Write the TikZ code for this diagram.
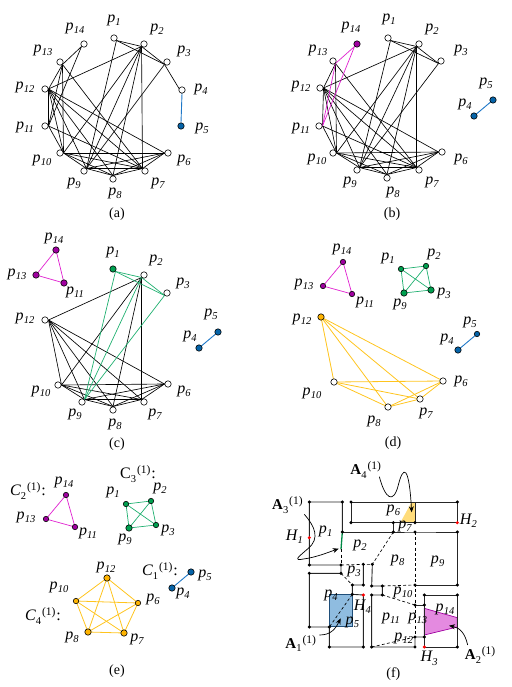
\documentclass[tikz,border=0pt]{standalone}
\usepackage{fontspec}
\setmainfont{Liberation Serif}
\usetikzlibrary{backgrounds,arrows.meta}
\definecolor{nblue}{HTML}{0563A8}
\definecolor{lblue}{HTML}{1F78C8}
\definecolor{nmag}{HTML}{A000A0}
\definecolor{lmag}{HTML}{E020D0}
\definecolor{ngreen}{HTML}{00A050}
\definecolor{lgreen}{HTML}{20B070}
\definecolor{nyel}{HTML}{FFB400}
\definecolor{lyel}{HTML}{FFC41E}
\definecolor{fblue}{HTML}{8FBCE0}
\definecolor{dblue}{HTML}{1F4E79}
\definecolor{fmag}{HTML}{E48AE0}
\definecolor{fyel}{HTML}{FFDC7A}
\newcommand\pl[1]{{\fontsize{16}{16}\selectfont\itshape p\kern.2pt\raisebox{-3.2pt}{\fontsize{10.5}{10}\selectfont #1}}}
\newcommand\hl[1]{{\fontsize{16}{16}\selectfont\itshape H\kern.2pt\raisebox{-3.2pt}{\fontsize{10.5}{10}\selectfont #1}}}
\newcommand\supsub[1]{\raisebox{-3.2pt}{\fontsize{10.5}{10}\selectfont\upshape #1}\kern.8pt\raisebox{5pt}{\fontsize{11.5}{10}\selectfont\upshape (1)}}
\newcommand\clab[1]{{\fontsize{16}{15}\selectfont\itshape C\kern.2pt\supsub{#1}\kern1pt\upshape:}}
\newcommand\clabup[1]{{\fontsize{16}{15}\selectfont C\kern.2pt\supsub{#1}\kern1pt:}}
\newcommand\alab[1]{{\fontsize{15}{15}\selectfont\bfseries A\kern.2pt\mdseries\supsub{#1}}}
\tikzset{
  wn/.style={circle,draw=black,fill=white,line width=.6pt,inner sep=0pt,minimum size=6.4pt},
  bn/.style={wn,fill=nblue},
  mn/.style={wn,fill=nmag},
  gn/.style={wn,fill=ngreen},
  yn/.style={wn,fill=nyel},
  small/.style={minimum size=5.4pt},
  lb/.style={inner sep=0pt},
  capt/.style={inner sep=0pt,font=\fontsize{14}{14}\selectfont},
  ke/.style={draw=black,line width=.65pt},
  be/.style={draw=lblue,line width=.9pt},
  me/.style={draw=lmag,line width=.7pt},
  ge/.style={draw=lgreen,line width=.7pt},
  ye/.style={draw=lyel,line width=.8pt},
  wall/.style={draw=black!85,line width=.9pt},
  dsh/.style={draw=black,line width=.65pt,dash pattern=on 3pt off 2.2pt},
  curv/.style={draw=black,line width=.7pt},
  curva/.style={curv,-{Stealth[length=6pt,width=5pt]}},
  dot/.style={circle,fill=black,inner sep=0pt,minimum size=3.4pt},
  reddot/.style={circle,fill=red,inner sep=0pt,minimum size=3.4pt}
}
\expandafter\def\csname anc1\endcsname{south east}
\expandafter\def\csname anc2\endcsname{south west}
\expandafter\def\csname anc3\endcsname{south west}
\expandafter\def\csname anc4\endcsname{south}
\expandafter\def\csname anc5\endcsname{north}
\expandafter\def\csname anc6\endcsname{west}
\expandafter\def\csname anc7\endcsname{north west}
\expandafter\def\csname anc8\endcsname{north}
\expandafter\def\csname anc9\endcsname{north east}
\expandafter\def\csname anc10\endcsname{east}
\expandafter\def\csname anc11\endcsname{east}
\expandafter\def\csname anc12\endcsname{east}
\expandafter\def\csname anc13\endcsname{south east}
\expandafter\def\csname anc14\endcsname{south west}
\newcommand\nodeset[3]{\foreach \n/\x/\y in {#3}{\node[#2] (#1\n) at (\x,\y) {};}}
\newcommand\labelset[2]{\foreach \n/\x/\y in {#2}{\node[lb] (#1l\n) at (\x,\y) {\pl{\n}};}}
\newcommand\edgeset[3]{\begin{pgfonlayer}{background}\foreach \p/\q in {#3}{\edef\ap{\csname anc\p\endcsname}\edef\aq{\csname anc\q\endcsname}\draw[#2] (#1\p.\ap) -- (#1\q.\aq);}\end{pgfonlayer}}
\newcommand\edgesetc[3]{\begin{pgfonlayer}{background}\foreach \p/\q in {#3}{\draw[#2] (#1\p.center) -- (#1\q.center);}\end{pgfonlayer}}
\begin{document}
\begin{tikzpicture}[x=1pt,y=-1pt]
\useasboundingbox (0,0) rectangle (511,687);
%% (a)
\nodeset{a}{wn}{1/114/38,2/144/44,3/167/62,4/182/90,6/168/153,7/145/171,8/113/179,9/84/171,10/60/153,11/45/126,12/45/89,13/60/62,14/84/44}
\nodeset{a}{bn}{5/181/126}
\labelset{a}{1/114/20,2/157/29,3/184/51,4/201/89,5/202/128,6/184/160,7/158/183,8/115/193,9/74/183,10/42/160,11/25/127,12/25/87,13/43/50,14/75/28}
\edgeset{a}{ke}{1/2,1/3,1/9,2/3,2/9,3/9,3/4,2/12,2/10,2/8,2/7,12/13,12/11,12/10,12/9,12/8,12/7,12/6,13/14,13/11,13/10,13/7,14/11,11/10,11/7,10/9,10/8,10/7,10/6,9/8,9/7,9/6,8/7,8/6,7/6}
\edgeset{a}{be}{4/5}
\node[capt] (capa) at (117,214) {(a)};
%% (b)
\nodeset{b}{wn}{1/388/38,2/419/44,3/441/61,6/442/152,7/419/170,8/387/178,9/357/170,10/333/153,11/319/126,12/320/88,13/333/61}
\nodeset{b}{bn}{4/474/116,5/493/100}
\nodeset{b}{mn}{14/357/44}
\labelset{b}{1/389/19,2/432/29,3/461/50,4/465/104,5/486/83,6/461/159,7/432/182,8/393/192,9/350/182,10/317/159,11/301/128,12/301/86,13/318/50,14/351/27}
\edgeset{b}{ke}{1/2,1/3,1/9,2/3,2/9,3/9,2/12,2/10,2/8,2/7,12/13,12/11,12/10,12/9,12/8,12/7,12/6,13/10,13/7,11/10,11/7,10/9,10/8,10/7,10/6,9/8,9/7,9/6,8/7,8/6,7/6}
\edgeset{b}{me}{13/14,13/11,14/11}
\edgesetc{b}{be}{4/5}
\node[capt] (capb) at (392,214) {(b)};
%% (c)
\nodeset{c}{wn}{2/144/275,3/167/293,6/168/384,7/144/402,8/113/410,9/82/402,10/58/385,12/45/320}
\nodeset{c}{gn}{1/113/269}
\nodeset{c}{bn}{4/199/348,5/218/332}
\nodeset{c}{mn}{11/64/283,13/36/275,14/56/250}
\labelset{c}{1/113/252,2/156/260,3/183/283,4/190/336,5/211/314,6/184/391,7/155/414,8/115/424,9/75/414,10/41/391,11/75/292,12/25/318,13/17/274,14/54/238}
\edgeset{c}{ke}{2/12,2/10,2/8,2/7,12/10,12/9,12/8,12/7,12/6,10/9,10/8,10/7,10/6,9/8,9/7,9/6,8/7,8/6,7/6}
\edgeset{c}{ge}{1/2,1/3,1/9,2/3,2/9,3/9}
\edgesetc{c}{me}{14/13,14/11,13/11}
\edgesetc{c}{be}{4/5}
\node[capt] (capc) at (117,444) {(c)};
%% (d)
\nodeset{d}{wn}{6/443/381,7/420/399,8/388/407,10/334/382}
\nodeset{d}{gn,small}{1/401/269,2/426/266}
\nodeset{d}{gn}{3/431/290,9/404/293}
\nodeset{d}{mn,small}{11/352/294,13/323/286,14/343/262}
\nodeset{d}{bn}{4/458/350}
\nodeset{d}{bn,small}{5/477/334}
\nodeset{d}{yn}{12/321/317}
\labelset{d}{1/388/258,2/434/254,3/444/293,4/447/339,5/470/322,6/461/381,7/426/413,8/374/421,9/400/304,10/312/393,11/365/302,12/302/319,13/304/284,14/342/249}
\edgesetc{d}{ye}{12/10,12/8,12/7,12/6,10/8,10/7,10/6,8/7,8/6,7/6}
\edgesetc{d}{ge}{1/2,1/3,1/9,2/3,2/9,3/9}
\edgesetc{d}{me}{14/13,14/11,13/11}
\edgesetc{d}{be}{4/5}
\node[capt] (capd) at (393,443) {(d)};
%% (e)
\nodeset{e}{mn,small}{11/75/527,13/46/519,14/66/495}
\nodeset{e}{gn,small}{1/126/504,2/151/501,3/156/525}
\nodeset{e}{gn}{9/129/528}
\nodeset{e}{yn}{7/124/633,8/88/632,12/107/578}
\nodeset{e}{yn,small}{6/138/603,10/76/601}
\nodeset{e}{bn}{4/172/588,5/191/572}
\labelset{e}{1/113/492,2/160/488,3/168/530,4/183/593,5/205/575,6/153/599,7/137/639,8/72/637,9/125/539,10/59/587,11/88/533,12/106/567,13/26/517,14/64/482}
\edgesetc{e}{ye}{12/10,12/8,12/7,12/6,10/8,10/7,10/6,8/7,8/6,7/6}
\edgesetc{e}{ge}{1/2,1/3,1/9,2/3,2/9,3/9}
\edgesetc{e}{me}{14/13,14/11,13/11}
\edgesetc{e}{be}{4/5}
\node[lb] (c2) at (28,491) {\clab{2}};
\node[lb] (c3) at (138,474) {\clabup{3}};
\node[lb] (c1) at (160,571) {\clab{1}};
\node[lb] (c4) at (43,616) {\clab{4}};
\node[capt] (cape) at (117,671) {(e)};
%% (f)
\begin{scope}[shift={(265,455)},x=.33333pt,y=-.33333pt]
\filldraw[draw=dblue,fill=fblue,line width=.7pt] (193,418) rectangle (263,515);
\filldraw[draw=nmag,fill=fmag,line width=.7pt] (478,460) -- (577,488) -- (577,516) -- (478,540) -- cycle;
\fill[fyel] (440,141) -- (452,141) -- (452,203) -- (406,203) -- cycle;
\draw[wall] (232,231) -- (232,141) -- (133,141) -- (133,330) -- (228,330) -- (228,355) -- (133,355) -- (133,516) -- (193,516) -- (193,576) -- (295,576) -- (295,420) -- (262,418) -- (262,390) -- (295,390) -- (295,328);
\draw[wall] (232,231) -- (385,231) -- (385,203);
\draw[wall] (385,231) -- (450,231) -- (577,231) -- (577,390) -- (450,390);
\draw[wall] (258,141) -- (258,203) -- (577,203) -- (577,141) -- cycle;
\draw[wall] (450,141) -- (450,203);
\draw[wall] (322,328) -- (320,393) -- (352,393) -- (352,420) -- (320,420) -- (320,576) -- (450,576) -- (450,546) -- (478,546);
\draw[wall] (450,450) -- (478,450);
\draw[wall] (478,420) -- (577,420) -- (577,576) -- (478,576) -- cycle;
\draw[draw=ngreen!85!black,line width=1.3pt] (232,231) -- (228,283);
\draw[dsh] (228,283) -- (228,330);
\draw[dsh] (228,330) -- (295,328) -- (322,328);
\draw[dsh] (385,231) -- (322,328);
\draw[dsh] (228,355) -- (262,390);
\draw[dsh] (262,418) -- (193,516);
\draw[dsh] (352,393) -- (450,390);
\draw[dsh] (352,420) -- (450,450);
\draw[dsh] (450,231) -- (450,546);
\draw[dsh] (320,576) -- (450,546);
\foreach \x/\y in {133/141,232/141,232/231,133/330,228/330,295/328,322/328,133/355,228/355,262/390,295/390,320/393,352/393,450/390,577/390,262/418,320/420,352/420,450/450,478/450,133/516,193/516,193/576,295/576,320/576,450/576,450/546,478/546,478/420,577/420,577/576,258/141,258/203,385/203,450/203,450/231,385/231,577/231,577/141}
  \node[dot] at (\x,\y) {};
\foreach \x/\y in {133/248,577/203,478/576,295/420}
  \node[reddot] at (\x,\y) {};
\draw[curva] (343,65) .. controls (360,130) and (385,150) .. (400,90) .. controls (415,30) and (432,30) .. (440,172);
\draw[curva] (118,178) .. controls (150,215) and (165,250) .. (130,280) .. controls (95,310) and (85,318) .. (115,312) .. controls (150,308) and (190,292) .. (221,281);
\draw[curva] (163,540) .. controls (195,540) and (210,525) .. (227,490);
\draw[curva] (608,570) .. controls (600,535) and (585,518) .. (552,512);
\node[lb] (lA4) at (302,45) {\alab{4}};
\node[lb] (lA3) at (67,150) {\alab{3}};
\node[lb] (lA1) at (107,565) {\alab{1}};
\node[lb] (lA2) at (645,600) {\alab{2}};
\node[lb] (lH1) at (88,245) {\hl{1}};
\node[lb] (lH2) at (610,197) {\hl{2}};
\node[lb] (lH3) at (492,610) {\hl{3}};
\node[lb] (lH4) at (292,455) {\hl{4}};
\node[lb] (f1) at (182,230) {\pl{1}};
\node[lb] (f2) at (285,270) {\pl{2}};
\node[lb] (f3) at (267,350) {\pl{3}};
\node[lb] (f4) at (198,422) {\pl{4}};
\node[lb] (f5) at (262,503) {\pl{5}};
\node[lb] (f6) at (385,165) {\pl{6}};
\node[lb] (f7) at (420,215) {\pl{7}};
\node[lb] (f8) at (398,315) {\pl{8}};
\node[lb] (f9) at (518,318) {\pl{9}};
\node[lb] (f10) at (414,412) {\pl{10}};
\node[lb] (f11) at (378,490) {\pl{11}};
\node[lb] (f12) at (416,550) {\pl{12}};
\node[lb] (f13) at (458,490) {\pl{13}};
\node[lb] (f14) at (540,463) {\pl{14}};
\node[capt] (capf) at (385,657) {(f)};
\end{scope}
\end{tikzpicture}
\end{document}
